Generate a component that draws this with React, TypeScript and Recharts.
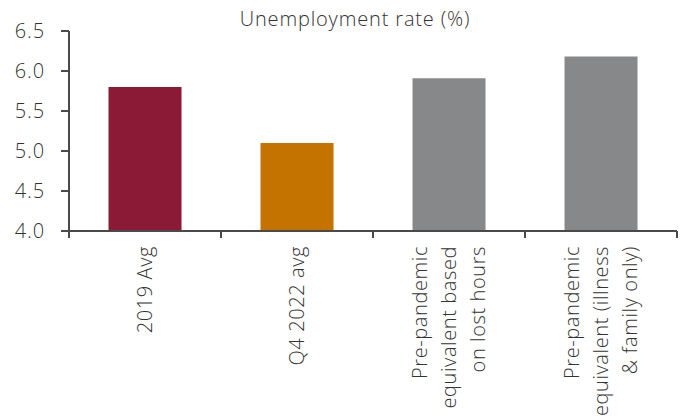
import React from "react";
import { BarChart, Bar, XAxis, YAxis, Cell } from "recharts";

const title = "Unemployment rate (%)";
const categories = [
  "2019 Avg",
  "Q4 2022 avg",
  "Pre-pandemic equivalent based on lost hours",
  "Pre-pandemic equivalent (illness & family only)",
];
const categoryLines = [
  ["2019 Avg"],
  ["Q4 2022 avg"],
  ["Pre-pandemic", "equivalent based", "on lost hours"],
  ["Pre-pandemic", "equivalent (illness", "& family only)"],
];
const rates = [5.8, 5.1, 5.91, 6.18];
const barColors = ["#8a1a35", "#c47200", "#87888a"];
const colorIndex = [0, 1, 2, 2];
const yTicks = [4.0, 4.5, 5.0, 5.5, 6.0, 6.5];

const data = categories.map((name, i) => ({ name, rate: rates[i] }));

const FONT = "'Open Sans', sans-serif";
const TEXT = "#333333";
const AXIS = "#4a4a4a";
const W = 686;
const H = 419;
const MARGIN = { top: 31, right: 9, left: 0, bottom: 0 };
const Y_W = 69;
const X_H = 188;
const LINE_GAP = 28.7;
const WEIGHT = 300;
const LS = 0.85;
const CAT_LS = 0.6;

const XTick = (props: any) => {
  const { x, y, index, payload } = props;
  const plotW = props.width || W - MARGIN.right - Y_W;
  const count = props.visibleTicksCount || categories.length;
  const band = plotW / count;
  const idx = categories.indexOf(payload.value);
  const lines = categoryLines[idx] || [payload.value];
  const n = lines.length;
  return (
    <g>
      <line x1={x + band / 2} x2={x + band / 2} y1={y} y2={y + 7} stroke={AXIS} strokeWidth={2} />
      {index === 0 && (
        <line x1={x - band / 2} x2={x - band / 2} y1={y} y2={y + 7} stroke={AXIS} strokeWidth={2} />
      )}
      <text
        transform={`translate(${x},${y + 15}) rotate(-90)`}
        textAnchor="end"
        fill={TEXT}
        fontFamily={FONT}
        fontWeight={WEIGHT}
        fontSize={20}
        letterSpacing={CAT_LS}
      >
        {lines.map((ln, i) => (
          <tspan key={i} x={0} y={(i - (n - 1) / 2) * LINE_GAP + 7}>
            {ln}
          </tspan>
        ))}
      </text>
    </g>
  );
};

export default function App() {
  return (
    <div style={{ position: "absolute", left: 0, top: 0, width: W, height: H, background: "#fff" }}>
      <BarChart
        width={W}
        height={H}
        data={data}
        margin={MARGIN}
        barCategoryGap="26%"
        style={{ fontFamily: FONT }}
      >
        <XAxis
          dataKey="name"
          height={X_H}
          interval={0}
          tickLine={false}
          tickSize={0}
          tickMargin={0}
          axisLine={{ stroke: AXIS, strokeWidth: 2 }}
          tick={<XTick />}
        />
        <YAxis
          width={Y_W}
          domain={[4, 6.5]}
          ticks={yTicks}
          interval={0}
          tickSize={8}
          tickMargin={16}
          tickFormatter={(v: number) => v.toFixed(1)}
          axisLine={{ stroke: AXIS, strokeWidth: 2 }}
          tickLine={{ stroke: AXIS, strokeWidth: 2 }}
          tick={{ fill: TEXT, fontSize: 20, fontWeight: WEIGHT, fontFamily: FONT, letterSpacing: LS } as any}
        />
        <Bar dataKey="rate" isAnimationActive={false}>
          {data.map((d, i) => (
            <Cell key={d.name} fill={barColors[colorIndex[i]]} />
          ))}
        </Bar>
      </BarChart>
      <div
        style={{
          position: "absolute",
          left: 0,
          top: 5,
          width: 710,
          textAlign: "center",
          fontFamily: FONT,
          fontWeight: WEIGHT,
          fontSize: 20,
          letterSpacing: LS,
          color: TEXT,
          whiteSpace: "nowrap",
        }}
      >
        {title}
      </div>
    </div>
  );
}
